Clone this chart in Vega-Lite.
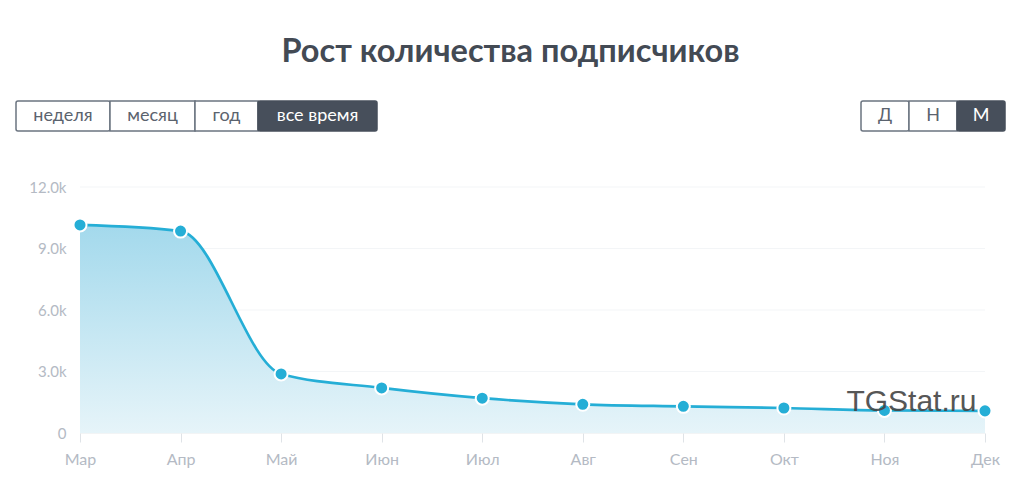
{
  "$schema": "https://vega.github.io/schema/vega-lite/v6.json",
  "background": "white",
  "padding": {"left": 15, "top": 35, "right": 0, "bottom": 0},
  "config": {
    "font": "Lato",
    "view": {"stroke": "transparent"},
    "text": {"fontSize": 18, "font": "Lato", "color": "#5b636e"}
  },
  "datasets": {
    "growth": [
      {"month": "Мар", "subs": 10150},
      {"month": "Апр", "subs": 9850},
      {"month": "Май", "subs": 2880},
      {"month": "Июн", "subs": 2200},
      {"month": "Июл", "subs": 1700},
      {"month": "Авг", "subs": 1400},
      {"month": "Сен", "subs": 1300},
      {"month": "Окт", "subs": 1220},
      {"month": "Ноя", "subs": 1100},
      {"month": "Дек", "subs": 1080}
    ]
  },
  "align": "none",
  "spacing": 31,
  "vconcat": [
    {
      "width": 989,
      "height": 1,
      "title": {
        "text": "Рост количества подписчиков",
        "anchor": "middle",
        "frame": "group",
        "font": "Lato",
        "fontSize": 32.5,
        "fontWeight": "bold",
        "color": "#434a54",
        "offset": 0
      },
      "data": {"values": []},
      "mark": "rect"
    },
    {
      "align": "none",
      "spacing": 47,
      "vconcat": [
        {
          "spacing": 845,
          "bounds": "flush",
          "hconcat": [
            {
              "spacing": 0,
              "bounds": "flush",
              "hconcat": [
                {
                  "width": 94, "height": 30,
                  "view": {"stroke": "#6b7480", "strokeWidth": 1.5, "fill": "#ffffff", "cornerRadius": 2},
                  "data": {"values": [{"label": "неделя"}]},
                  "mark": "text",
                  "encoding": {"text": {"field": "label"}}
                },
                {
                  "width": 85, "height": 30,
                  "view": {"stroke": "#6b7480", "strokeWidth": 1.5, "fill": "#ffffff"},
                  "data": {"values": [{"label": "месяц"}]},
                  "mark": "text",
                  "encoding": {"text": {"field": "label"}}
                },
                {
                  "width": 63, "height": 30,
                  "view": {"stroke": "#6b7480", "strokeWidth": 1.5, "fill": "#ffffff"},
                  "data": {"values": [{"label": "год"}]},
                  "mark": "text",
                  "encoding": {"text": {"field": "label"}}
                },
                {
                  "width": 119, "height": 30,
                  "view": {"stroke": "#474f5b", "strokeWidth": 1.5, "fill": "#474f5b", "cornerRadius": 2},
                  "data": {"values": [{"label": "все время"}]},
                  "mark": {"type": "text", "color": "#ffffff"},
                  "encoding": {"text": {"field": "label"}}
                }
              ]
            },
            {
              "spacing": 0,
              "bounds": "flush",
              "hconcat": [
                {
                  "width": 48, "height": 30,
                  "view": {"stroke": "#6b7480", "strokeWidth": 1.5, "fill": "#ffffff", "cornerRadius": 2},
                  "data": {"values": [{"label": "Д"}]},
                  "mark": "text",
                  "encoding": {"text": {"field": "label"}}
                },
                {
                  "width": 48, "height": 30,
                  "view": {"stroke": "#6b7480", "strokeWidth": 1.5, "fill": "#ffffff"},
                  "data": {"values": [{"label": "Н"}]},
                  "mark": "text",
                  "encoding": {"text": {"field": "label"}}
                },
                {
                  "width": 48, "height": 30,
                  "view": {"stroke": "#474f5b", "strokeWidth": 1.5, "fill": "#474f5b", "cornerRadius": 2},
                  "data": {"values": [{"label": "М"}]},
                  "mark": {"type": "text", "color": "#ffffff"},
                  "encoding": {"text": {"field": "label"}}
                }
              ]
            }
          ]
        },
        {
          "width": 969,
          "height": 246,
          "data": {"name": "growth"},
          "encoding": {
            "x": {
              "field": "month",
              "type": "ordinal",
              "sort": null,
              "title": null,
              "scale": {
                "type": "point",
                "padding": 0,
                "range": [64, 969],
                "domain": ["Мар", "Апр", "Май", "Июн", "Июл", "Авг", "Сен", "Окт", "Ноя", "Дек"]
              },
              "axis": {
                "labelAngle": 0,
                "labelColor": "#b4bac4",
                "labelFontSize": 16,
                "labelPadding": 9,
                "tickColor": "#dfe3e7",
                "tickSize": 9,
                "domain": false,
                "grid": false
              }
            },
            "y": {
              "field": "subs",
              "type": "quantitative",
              "title": null,
              "scale": {"domain": [0, 12000], "nice": false},
              "axis": {
                "values": [0, 3000, 6000, 9000, 12000],
                "labelExpr": "datum.value == 0 ? '0' : format(datum.value / 1000, '.1f') + 'k'",
                "labelColor": "#b4bac4",
                "labelFontSize": 15,
                "labelPadding": -50,
                "ticks": false,
                "domain": false,
                "grid": false
              }
            }
          },
          "layer": [
            {
              "data": {"values": [{"level": 0}, {"level": 3000}, {"level": 6000}, {"level": 9000}, {"level": 12000}]},
              "mark": {"type": "rule", "strokeWidth": 1},
              "encoding": {
                "x": {"datum": "Мар"},
                "x2": {"datum": "Дек"},
                "y": {"field": "level", "type": "quantitative"},
                "color": {"condition": {"test": "datum.level == 0", "value": "#e6e9ec"}, "value": "#f3f5f7"}
              }
            },
            {
              "mark": {
                "type": "area",
                "interpolate": "monotone",
                "color": {
                  "gradient": "linear",
                  "x1": 0, "y1": 0, "x2": 0, "y2": 1,
                  "stops": [
                    {"offset": 0, "color": "#a3d9ec"},
                    {"offset": 1, "color": "#e6f4f9"}
                  ]
                }
              }
            },
            {
              "mark": {"type": "line", "interpolate": "monotone", "color": "#25aed6", "strokeWidth": 2.7}
            },
            {
              "mark": {"type": "point", "filled": true, "size": 170, "opacity": 1, "fill": "#25aed6", "stroke": "white", "strokeWidth": 2}
            },
            {
              "data": {"values": [{"month": "Ноя", "subs": 1500, "note": "TGStat.ru"}]},
              "mark": {"type": "text", "font": "Liberation Sans", "fontSize": 30, "color": "#444444", "dx": 27, "opacity": 0.9},
              "encoding": {"text": {"field": "note"}}
            }
          ]
        }
      ]
    }
  ]
}
